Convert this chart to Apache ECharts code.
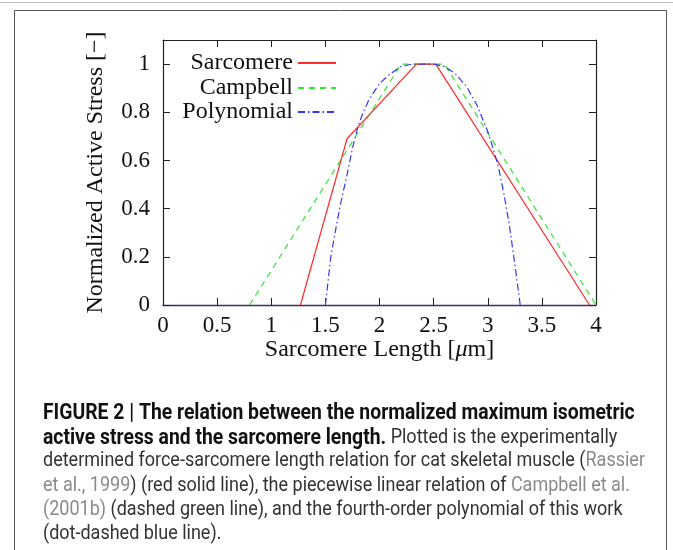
<!DOCTYPE html>
<html>
<head>
<meta charset="utf-8">
<script src="https://cdn.jsdelivr.net/npm/echarts@6/dist/echarts.min.js"></script>
<style>
  html, body { margin: 0; padding: 0; background: #fff; }
  #chart { width: 673px; height: 550px; }
</style>
</head>
<body>
<div id="chart"></div>
<script>
// Force–length relations: [sarcomere length (µm), normalized active stress]
const sarcomere = [[1.27, 0], [1.70, 0.69], [2.34, 1], [2.52, 1], [3.94, 0]];
const campbell = [[0.80, 0], [2.20, 1], [2.60, 1], [4.00, 0]];
const polynomial = [
  [1.50, 0], [1.55, 0.20], [1.61, 0.35], [1.65, 0.44], [1.70, 0.54], [1.75, 0.65],
  [1.80, 0.74], [1.85, 0.80], [1.90, 0.85], [2.00, 0.92], [2.10, 0.96], [2.20, 0.99],
  [2.30, 1.00], [2.40, 1.00], [2.50, 1.00], [2.60, 0.99], [2.70, 0.96], [2.80, 0.91],
  [2.90, 0.83], [3.00, 0.72], [3.05, 0.65], [3.10, 0.57], [3.15, 0.46], [3.20, 0.33],
  [3.25, 0.17], [3.30, 0]
];
const seriesNames = ['Sarcomere', 'Campbell', 'Polynomial'];
const xTicks = [0, 0.5, 1, 1.5, 2, 2.5, 3, 3.5, 4];
const yTicks = [0, 0.2, 0.4, 0.6, 0.8, 1];

const serif = "'Liberation Serif', 'DejaVu Serif', serif";
const sans = "'Roboto', 'Liberation Sans', sans-serif";
const axisColor = '#222';

const chart = echarts.init(document.getElementById('chart'), null, { renderer: 'canvas' });

function onTick(list, v) {
  return list.some(t => Math.abs(t - v) < 1e-9);
}

const baseX = {
  type: 'value', min: 0, max: 4, interval: 0.5,
  splitLine: { show: false },
  axisLine: { show: true, onZero: false, lineStyle: { color: axisColor, width: 1.2 } },
  axisTick: { show: true, inside: true, length: 7, lineStyle: { color: axisColor, width: 1 } }
};
const baseY = {
  type: 'value', min: 0, max: 1.1, interval: 0.2,
  splitLine: { show: false },
  axisLine: { show: true, onZero: false, lineStyle: { color: axisColor, width: 1.2 } },
  axisTick: { show: true, inside: true, length: 7, lineStyle: { color: axisColor, width: 1 } }
};

// one legend per row so the line samples share a right edge
const legendRows = [51, 76, 100];
const legends = seriesNames.map((name, i) => ({
  data: [name],
  orient: 'vertical',
  align: 'right',
  right: 336,
  top: legendRows[i],
  padding: 0,
  itemWidth: 38,
  itemHeight: 14,
  selectedMode: false,
  itemStyle: { opacity: 0 },
  textStyle: { fontFamily: serif, fontSize: 24, color: '#111', padding: [0, 0, 0, 0] }
}));

const capY0 = 403, capDy = 24.2, capX = 43;
const rich = {
  b: { fontFamily: sans, fontWeight: 'bold', fontSize: 21.5, fill: '#111', color: '#111' },
  n: { fontFamily: sans, fontSize: 20, fill: '#333', color: '#333' },
  g: { fontFamily: sans, fontSize: 20, fill: '#8a8a8a', color: '#8a8a8a' }
};
const captionLines = [
  '{b|FIGURE 2 | The relation between the normalized maximum isometric}',
  '{b|active stress and the sarcomere length.}{n| Plotted is the experimentally}',
  '{n|determined force-sarcomere length relation for cat skeletal muscle (}{g|Rassier}',
  '{g|et al., 1999}{n|) (red solid line), the piecewise linear relation of }{g|Campbell et al.}',
  '{g|(2001b)}{n| (dashed green line), and the fourth-order polynomial of this work}',
  '{n|(dot-dashed blue line).}'
];

const graphics = [
  { type: 'line', shape: { x1: 0, y1: 2.5, x2: 673, y2: 2.5 }, style: { stroke: '#bdbdbd', lineWidth: 1 } },
  { type: 'rect', shape: { x: 14.5, y: 10.5, width: 652, height: 600 }, style: { fill: 'none', stroke: '#555', lineWidth: 1 } }
].concat(captionLines.map((t, i) => ({
  type: 'text', x: capX, y: capY0 + i * capDy, scaleX: 0.9,
  style: { text: t, rich: rich, font: '20px ' + sans, fill: '#333' }
})));

chart.setOption({
  animation: false,
  backgroundColor: '#fff',
  grid: { left: 163, right: 77, top: 40, bottom: 245, containLabel: false },
  legend: legends,
  xAxis: [
    Object.assign({}, baseX, {
      position: 'bottom',
      axisLine: { show: true, onZero: false, lineStyle: { color: '#3c2f5c', width: 1.3 } },
      name: 'Sarcomere Length [{i|μ}m]',
      nameLocation: 'middle', nameGap: 32,
      nameTextStyle: { fontFamily: serif, fontSize: 24, color: '#111',
        rich: { i: { fontFamily: serif, fontSize: 24, fontStyle: 'italic', color: '#111' } } },
      axisLabel: { margin: 9, fontFamily: serif, fontSize: 23, color: '#111',
        formatter: v => onTick(xTicks, v) ? String(v) : '' }
    }),
    Object.assign({}, baseX, { position: 'top', axisLabel: { show: false } })
  ],
  yAxis: [
    Object.assign({}, baseY, {
      position: 'left',
      name: 'Normalized Active Stress [−]',
      nameLocation: 'middle', nameGap: 55,
      nameTextStyle: { fontFamily: serif, fontSize: 24, color: '#111' },
      axisLabel: { margin: 13, fontFamily: serif, fontSize: 23, color: '#111', showMaxLabel: false,
        formatter: v => onTick(yTicks, v) ? String(v) : '' }
    }),
    Object.assign({}, baseY, { position: 'right', axisLabel: { show: false } })
  ],
  series: [
    { name: seriesNames[0], type: 'line', data: sarcomere, xAxisIndex: 0, yAxisIndex: 0,
      symbol: 'none', showSymbol: false, z: 5,
      lineStyle: { color: '#ff2a2a', width: 1.2, type: 'solid' }, itemStyle: { color: '#ff2a2a' } },
    { name: seriesNames[1], type: 'line', data: campbell, xAxisIndex: 0, yAxisIndex: 0,
      symbol: 'none', showSymbol: false, z: 4,
      lineStyle: { color: '#2ee82e', width: 1.2, type: [6, 5] }, itemStyle: { color: '#2ee82e' } },
    { name: seriesNames[2], type: 'line', data: polynomial, xAxisIndex: 0, yAxisIndex: 0,
      symbol: 'none', showSymbol: false, z: 6,
      lineStyle: { color: '#3535ff', width: 1.2, type: [7, 3, 1.5, 3] }, itemStyle: { color: '#3535ff' } }
  ],
  graphic: graphics
});
</script>
</body>
</html>
